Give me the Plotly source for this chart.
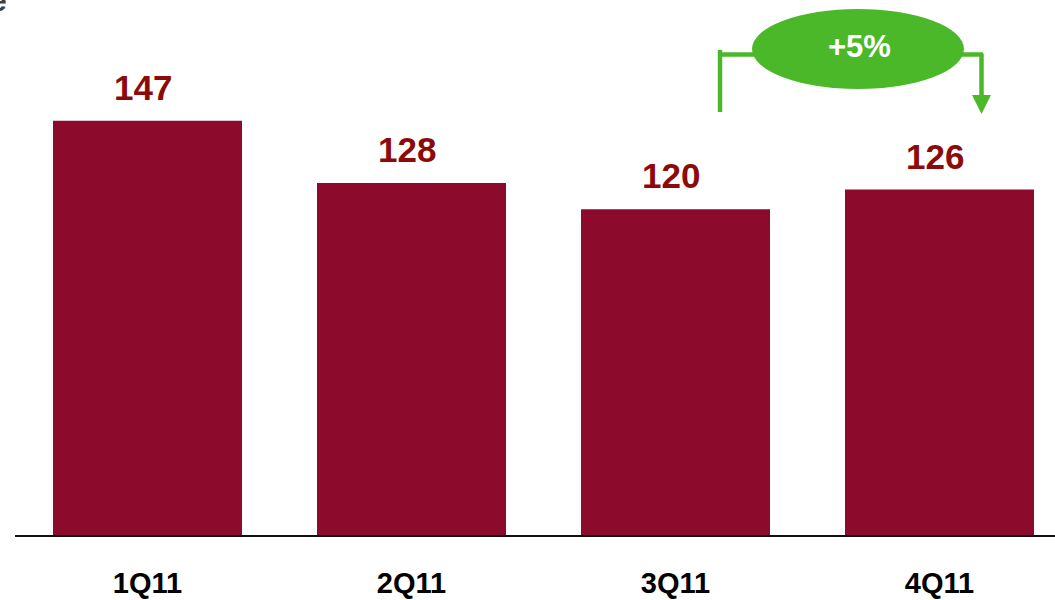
import plotly.graph_objects as go

# Quarterly values
quarters = ["1Q11", "2Q11", "3Q11", "4Q11"]
values = [147, 128, 120, 126]
change_label = "+5%"

BAR = "#8C0B2C"
LABEL = "#8B0A0A"
GREEN = "#4BB82A"
FONT = "Liberation Sans, Arial, sans-serif"

W, H = 1055, 600
ML, MB = 15, 65
PW, PH = W - ML, H - MB


def px(x):
    """Horizontal pixel -> paper fraction."""
    return (x - ML) / PW


def py(y):
    """Vertical pixel (from top) -> paper fraction."""
    return 1 - y / PH


fig = go.Figure(
    go.Bar(
        x=quarters,
        y=values,
        marker=dict(color=BAR, line=dict(width=0)),
        width=0.716,
        hoverinfo="skip",
    )
)

# Value labels above the bars
for q, v in zip(quarters, values):
    fig.add_annotation(
        x=q, y=v, xref="x", yref="y",
        text=f"<b>{v}</b>", showarrow=False,
        yanchor="bottom", yshift=12, xshift=-4.5,
        font=dict(family=FONT, size=35, color=LABEL),
    )

# Bracket from 3Q11 to 4Q11 with change bubble
lw = 4.5
x_left, x_right = 720, 981.5
y_line = 54.5
fig.add_shape(type="line", xref="paper", yref="paper",
              x0=px(x_left), x1=px(x_left), y0=py(50), y1=py(112),
              line=dict(color=GREEN, width=lw), layer="above")
fig.add_shape(type="line", xref="paper", yref="paper",
              x0=px(x_left - 1), x1=px(770), y0=py(y_line), y1=py(y_line),
              line=dict(color=GREEN, width=lw), layer="above")
fig.add_shape(type="line", xref="paper", yref="paper",
              x0=px(940), x1=px(x_right + 1.5), y0=py(y_line), y1=py(y_line),
              line=dict(color=GREEN, width=lw), layer="above")
fig.add_shape(type="line", xref="paper", yref="paper",
              x0=px(x_right), x1=px(x_right), y0=py(y_line - 1), y1=py(97),
              line=dict(color=GREEN, width=lw), layer="above")
fig.add_shape(type="path", xref="paper", yref="paper",
              path=(f"M {px(972)},{py(95)} L {px(991)},{py(95)} "
                    f"L {px(x_right)},{py(114)} Z"),
              fillcolor=GREEN, line=dict(width=0), layer="above")
fig.add_shape(type="circle", xref="paper", yref="paper",
              x0=px(752), x1=px(964), y0=py(89), y1=py(9),
              fillcolor=GREEN, line=dict(width=0), layer="above")
fig.add_annotation(
    x=px(859), y=py(46), xref="paper", yref="paper",
    text=f"<b>{change_label}</b>", showarrow=False,
    xanchor="center", yanchor="middle",
    font=dict(family=FONT, size=31, color="white"),
)

# Trailing letter of the heading, running off the top-left corner
fig.add_annotation(
    x=px(9), y=py(0), xref="paper", yref="paper",
    text="<b>e</b>", showarrow=False,
    xanchor="right", yanchor="middle",
    font=dict(family=FONT, size=30, color="#404040"),
)

fig.update_layout(
    width=W, height=H,
    margin=dict(l=ML, r=0, t=0, b=MB, autoexpand=False),
    paper_bgcolor="white", plot_bgcolor="white",
    showlegend=False, bargap=0.284,
    xaxis=dict(
        type="category",
        range=[-0.5019, 3.4375],
        automargin=False,
        showline=True, linecolor="#111111", linewidth=2,
        showgrid=False, zeroline=False, ticks="",
        tickfont=dict(family=FONT, size=29, color="black"),
        tickprefix="<b>", ticksuffix="</b>",
        ticklabelstandoff=21,
    ),
    yaxis=dict(
        range=[20.6, 20.6 + PH / 3.278],
        visible=False, showgrid=False, zeroline=False,
        automargin=False,
    ),
)

fig.write_html("out.html")
